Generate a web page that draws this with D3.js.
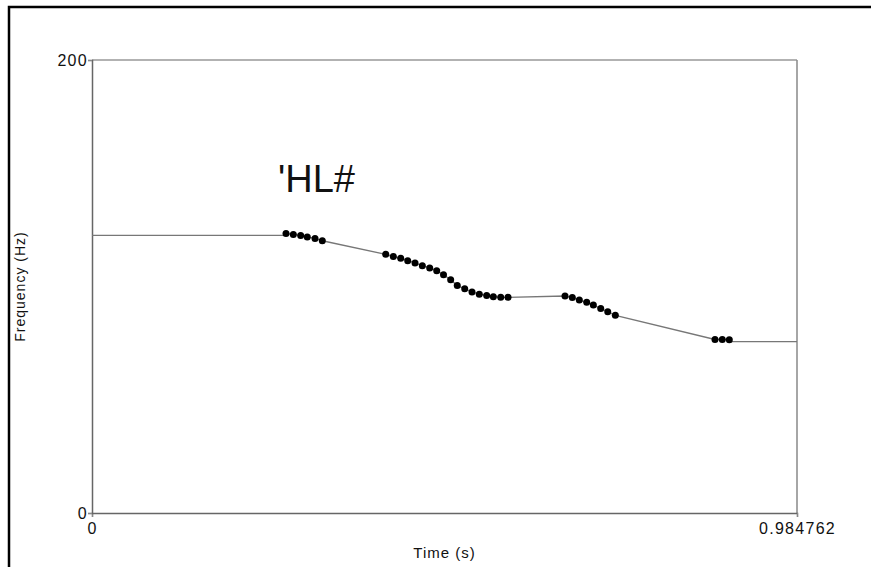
<!DOCTYPE html>
<html>
<head>
<meta charset="utf-8">
<script src="https://cdn.jsdelivr.net/npm/d3@7"></script>
<style>
  body { margin: 0; background: #fff; }
  text { font-family: "Liberation Sans", Arial, sans-serif; fill: #111; }
</style>
</head>
<body>
<div id="chart"></div>
<script>
// pitch track (time s, frequency Hz)
const times = [0.2710, 0.2812, 0.2915, 0.3007, 0.3115, 0.3217,
  0.4103, 0.4209, 0.4312, 0.4410, 0.4512, 0.4614, 0.4717, 0.4815, 0.4910, 0.5010,
  0.5102, 0.5206, 0.5308, 0.5410, 0.5513, 0.5606, 0.5709, 0.5811,
  0.6607, 0.6709, 0.6807, 0.6910, 0.7003, 0.7106, 0.7204, 0.7310,
  0.8702, 0.8804, 0.8902];
const freqs = [123.4, 123.0, 122.5, 121.9, 121.2, 120.2,
  114.2, 113.2, 112.5, 111.4, 110.4, 109.2, 108.2, 107.0, 105.2, 103.0,
  100.4, 99.0, 97.6, 96.6, 96.0, 95.5, 95.2, 95.2,
  95.8, 95.1, 94.0, 93.0, 91.8, 90.3, 88.9, 87.3,
  76.6, 76.6, 76.5];
const xDomain = [0, 0.984762];
const yDomain = [0, 200];
const xTickLabels = ["0", "0.984762"];
const yTickLabels = ["0", "200"];
const annotation = "'HL#";

const width = 871, height = 567;
const svg = d3.select("#chart").append("svg")
  .attr("width", width).attr("height", height);

svg.append("rect").attr("width", width).attr("height", height).attr("fill", "#fff");
// frame running off the right and bottom edges
svg.append("rect")
  .attr("x", 9).attr("y", 7).attr("width", width + 20).attr("height", height + 20)
  .attr("fill", "none").attr("stroke", "#000").attr("stroke-width", 2.5);

const x = d3.scaleLinear().domain(xDomain).range([92, 797]);
const y = d3.scaleLinear().domain(yDomain).range([513, 60]);

// plot box: top/right lighter
svg.append("line").attr("x1", x(0)).attr("x2", x(xDomain[1])).attr("y1", y(200)).attr("y2", y(200))
  .attr("stroke", "#999").attr("stroke-width", 1.5);
svg.append("line").attr("x1", x(xDomain[1])).attr("x2", x(xDomain[1])).attr("y1", y(200)).attr("y2", y(0))
  .attr("stroke", "#888").attr("stroke-width", 1.5);

const xAxis = d3.axisBottom(x).tickValues(xDomain).tickSize(4).tickFormat((d, i) => xTickLabels[i]);
const yAxis = d3.axisLeft(y).tickValues(yDomain).tickSize(4).tickFormat((d, i) => yTickLabels[i]);

const gx = svg.append("g").attr("transform", `translate(0,${y(0)})`).call(xAxis);
const gy = svg.append("g").attr("transform", `translate(${x(0)},0)`).call(yAxis);
[gx, gy].forEach(g => {
  g.select(".domain").attr("stroke", "#666").attr("stroke-width", 1.5);
  g.selectAll(".tick line").attr("stroke", "#888");
  g.selectAll(".tick text").attr("font-size", 16).attr("letter-spacing", "1.3px")
    .attr("font-family", "Liberation Sans, Arial, sans-serif").attr("fill", "#111");
});
gx.selectAll(".tick text").attr("dy", "0.9em");
gy.selectAll(".tick text").attr("x", -4);

// contour line: held flat before the first and after the last point
const first = freqs[0], last = freqs[freqs.length - 1];
const linePts = [[xDomain[0], first - 0.8], [times[0], first - 0.8]]
  .concat(times.map((t, i) => [t, freqs[i]]))
  .concat([[times[times.length - 1], last - 0.8], [xDomain[1], last - 0.8]]);
svg.append("path")
  .datum(linePts)
  .attr("fill", "none").attr("stroke", "#777").attr("stroke-width", 1.3)
  .attr("d", d3.line().x(d => x(d[0])).y(d => y(d[1])));

svg.append("g").selectAll("circle")
  .data(times.map((t, i) => ({ t, f: freqs[i] })))
  .join("circle")
  .attr("cx", d => x(d.t)).attr("cy", d => y(d.f))
  .attr("r", 3.5).attr("fill", "#000");

svg.append("text").attr("x", 278).attr("y", 192)
  .attr("font-size", 38).text(annotation);

svg.append("text").attr("x", x(xDomain[1] / 2)).attr("y", 558)
  .attr("text-anchor", "middle").attr("font-size", 15).attr("letter-spacing", "1px")
  .text("Time (s)");

svg.append("text").attr("transform", `translate(25,${y(100)}) rotate(-90)`)
  .attr("text-anchor", "middle").attr("font-size", 14).attr("letter-spacing", "1px")
  .text("Frequency (Hz)");
</script>
</body>
</html>
